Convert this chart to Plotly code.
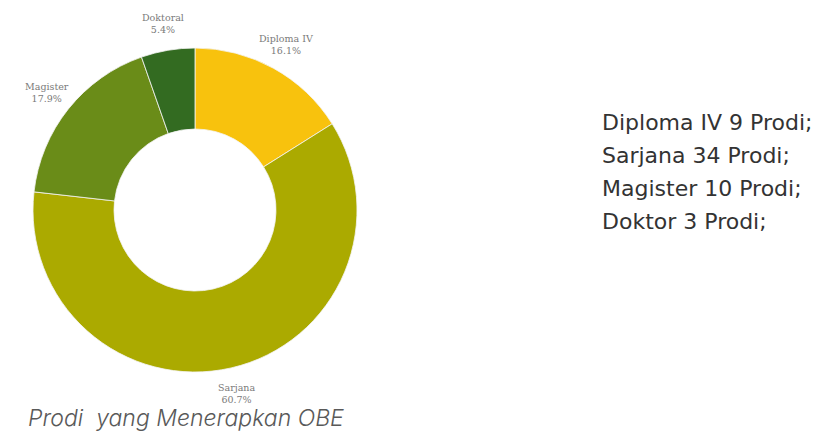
import math
import plotly.graph_objects as go

categories = ["Diploma IV", "Sarjana", "Magister", "Doktoral"]
prodi_counts = [9, 34, 10, 3]
side_names = ["Diploma IV", "Sarjana", "Magister", "Doktor"]
colors = ["#F8C20D", "#ABAA00", "#6A8C18", "#336B21"]
title_text = "Prodi  yang Menerapkan OBE"

W, H = 828, 432
cx, cy, r = 195, 210, 162
label_factor = 1.165

fig = go.Figure()
fig.add_trace(go.Pie(
    labels=categories,
    values=prodi_counts,
    sort=False,
    direction="clockwise",
    rotation=0,
    hole=0.5,
    marker=dict(colors=colors, line=dict(width=0.8, color="#f4f4f4")),
    textinfo="none",
    showlegend=False,
    hoverinfo="label+value+percent",
    domain=dict(x=[(cx - r) / W, (cx + r) / W], y=[(H - cy - r) / H, (H - cy + r) / H]),
))

# slice labels placed outside, at the mid-angle of each slice
total = sum(prodi_counts)
cum = 0
for name, v in zip(categories, prodi_counts):
    mid = (cum + v / 2) / total * 2 * math.pi
    cum += v
    px = cx + label_factor * r * math.sin(mid)
    py = cy - label_factor * r * math.cos(mid)
    fig.add_annotation(
        x=px / W, y=1 - py / H, xref="paper", yref="paper",
        xanchor="center", yanchor="middle", align="center",
        text=f"{name}<br>{v / total * 100:.1f}%", showarrow=False,
        borderpad=0,
        font=dict(family="DejaVu Serif", size=9.5, color="#7a7a7a"),
    )

for i, (n, c) in enumerate(zip(side_names, prodi_counts)):
    fig.add_annotation(
        x=600 / W, y=1 - (122 + 33.3 * i) / H, xref="paper", yref="paper",
        xanchor="left", yanchor="middle", align="left",
        text=f"{n} {c} Prodi;", showarrow=False,
        font=dict(family="DejaVu Sans", size=22, color="#333333"),
    )

fig.add_annotation(
    x=27 / W, y=1 - 418 / H, xref="paper", yref="paper",
    xanchor="left", yanchor="middle",
    text=title_text, showarrow=False, borderpad=0,
    font=dict(family="Inter", size=23, color="#595959", style="italic", weight=300),
)

fig.update_layout(
    width=W, height=H,
    margin=dict(l=0, r=0, t=0, b=0),
    paper_bgcolor="white", plot_bgcolor="white",
)
fig.write_html("out.html", config={"displayModeBar": False},
               post_script="document.body.style.margin='0';")
